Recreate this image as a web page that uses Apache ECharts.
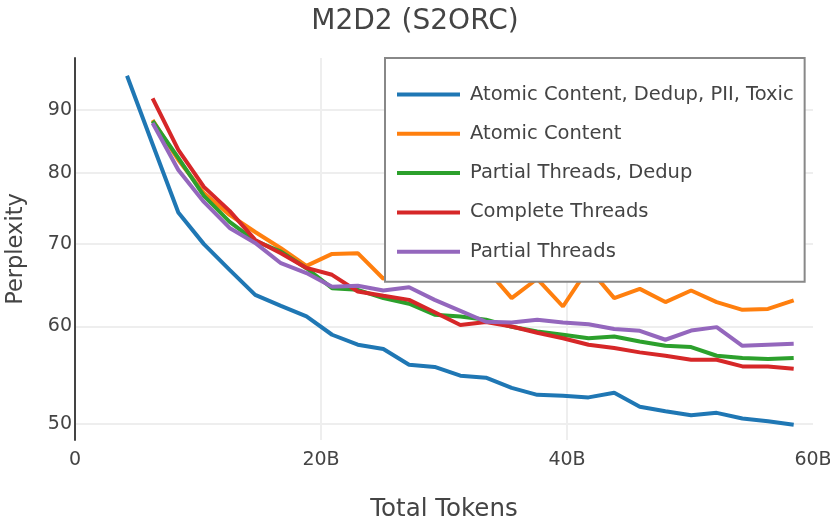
<!DOCTYPE html>
<html>
<head>
<meta charset="utf-8">
<script src="https://cdn.jsdelivr.net/npm/echarts@6/dist/echarts.min.js"></script>
<style>html,body{margin:0;padding:0;background:#fff}#chart{width:830px;height:520px}</style>
</head>
<body>
<div id="chart"></div>
<script>
// Total tokens (billions)
const tokensB = [4.23, 6.31, 8.40, 10.48, 12.57, 14.65, 16.74, 18.82, 20.90, 22.99, 25.07, 27.16, 29.24, 31.33, 33.41, 35.50, 37.58, 39.67, 41.75, 43.84, 45.92, 48.00, 50.09, 52.17, 54.26, 56.34, 58.43];

const atomicDedupPiiToxic = [95.96, 84.4, 74.27, 70.0, 66.7, 63.65, 62.36, 61.13, 59.07, 57.98, 57.51, 55.85, 55.61, 54.71, 54.51, 53.47, 52.78, 52.68, 52.53, 52.98, 51.61, 51.18, 50.80, 51.03, 50.49, 50.23, 49.90];
const atomicContent = [null, 88.33, 81.95, 77.04, 73.94, 71.61, 69.46, 67.20, 68.73, 68.82, 65.60, 67.33, 66.09, 67.71, 66.87, 63.27, 65.60, 62.28, 66.95, 63.27, 64.37, 62.80, 64.17, 62.80, 61.89, 62.00, 62.99];
const partialThreadsDedup = [null, 88.16, 82.26, 76.61, 72.98, 70.42, 69.03, 66.91, 64.46, 64.26, 63.27, 62.60, 61.33, 61.13, 60.76, 59.96, 59.43, 59.07, 58.68, 58.88, 58.33, 57.86, 57.72, 56.79, 56.55, 56.44, 56.55];
const completeThreads = [null, 91.99, 83.5, 77.92, 74.50, 70.55, 68.8, 66.95, 66.09, 64.05, 63.54, 63.06, 61.61, 60.15, 60.50, 59.99, 59.29, 58.68, 57.98, 57.62, 57.15, 56.79, 56.37, 56.37, 55.67, 55.67, 55.43];
const partialThreads = [null, 87.83, 80.43, 75.76, 72.15, 70.16, 67.54, 66.30, 64.62, 64.74, 64.17, 64.56, 63.06, 61.78, 60.53, 60.45, 60.76, 60.45, 60.24, 59.70, 59.51, 58.52, 59.54, 59.92, 57.86, 57.98, 58.08];

const seriesNames = ["Atomic Content, Dedup, PII, Toxic", "Atomic Content", "Partial Threads, Dedup", "Complete Threads", "Partial Threads"];
const seriesValues = [atomicDedupPiiToxic, atomicContent, partialThreadsDedup, completeThreads, partialThreads];
const colors = ["#1f77b4", "#ff7f0e", "#2ca02c", "#d62728", "#9467bd"];

const yTicks = [50, 60, 70, 80, 90];
const xTickLabels = {0: "0", 20: "20B", 40: "40B", 60: "60B"};

const font = "DejaVu Sans";
const chart = echarts.init(document.getElementById('chart'), null, {renderer: 'canvas'});

chart.setOption({
  backgroundColor: '#fff',
  animation: false,
  color: colors,
  title: {
    text: 'M2D2 (S2ORC)', left: 'center', top: 3,
    textStyle: {fontFamily: font, fontSize: 28, fontWeight: 'normal', color: '#444'}
  },
  grid: {left: 75, right: 17, top: 58, bottom: 80, containLabel: false, outerBoundsMode: 'none'},
  legend: {
    orient: 'vertical', left: 385, top: 58,
    icon: 'rect', itemWidth: 63, itemHeight: 4, itemGap: 19.3,
    padding: [26.5, 11, 20, 12],
    borderColor: '#888', borderWidth: 2, backgroundColor: '#fff',
    textStyle: {fontFamily: font, fontSize: 19.5, color: '#444', lineHeight: 20, padding: [0, 0, 0, 5]}
  },
  xAxis: {
    type: 'value', min: 0, max: 60, interval: 20,
    name: 'Total Tokens', nameLocation: 'middle', nameGap: 57,
    nameTextStyle: {fontFamily: font, fontSize: 24.5, color: '#444'},
    axisLine: {show: false}, axisTick: {show: false},
    axisLabel: {fontFamily: font, fontSize: 19, color: '#444', margin: 11,
      formatter: v => xTickLabels[v] !== undefined ? xTickLabels[v] : ''},
    splitLine: {show: true, showMinLine: false, showMaxLine: false, lineStyle: {color: '#eeeeee', width: 2}}
  },
  yAxis: {
    type: 'log', min: 48.5, max: 99.2,
    name: 'Perplexity', nameLocation: 'middle', nameGap: 47,
    nameTextStyle: {fontFamily: font, fontSize: 22.5, color: '#444'},
    axisLine: {show: true, onZero: false, lineStyle: {color: '#444', width: 2}},
    axisTick: {show: false, customValues: yTicks},
    axisLabel: {fontFamily: font, fontSize: 19, color: '#444', margin: 3, customValues: yTicks},
    splitLine: {show: true, lineStyle: {color: '#eeeeee', width: 2}}
  },
  series: seriesNames.map((name, si) => ({
    name: name,
    type: 'line',
    showSymbol: false,
    symbol: 'none',
    lineStyle: {width: 4, color: colors[si]},
    itemStyle: {color: colors[si]},
    data: tokensB.map((t, i) => [t, seriesValues[si][i]]).filter(p => p[1] !== null)
  }))
});
</script>
</body>
</html>
